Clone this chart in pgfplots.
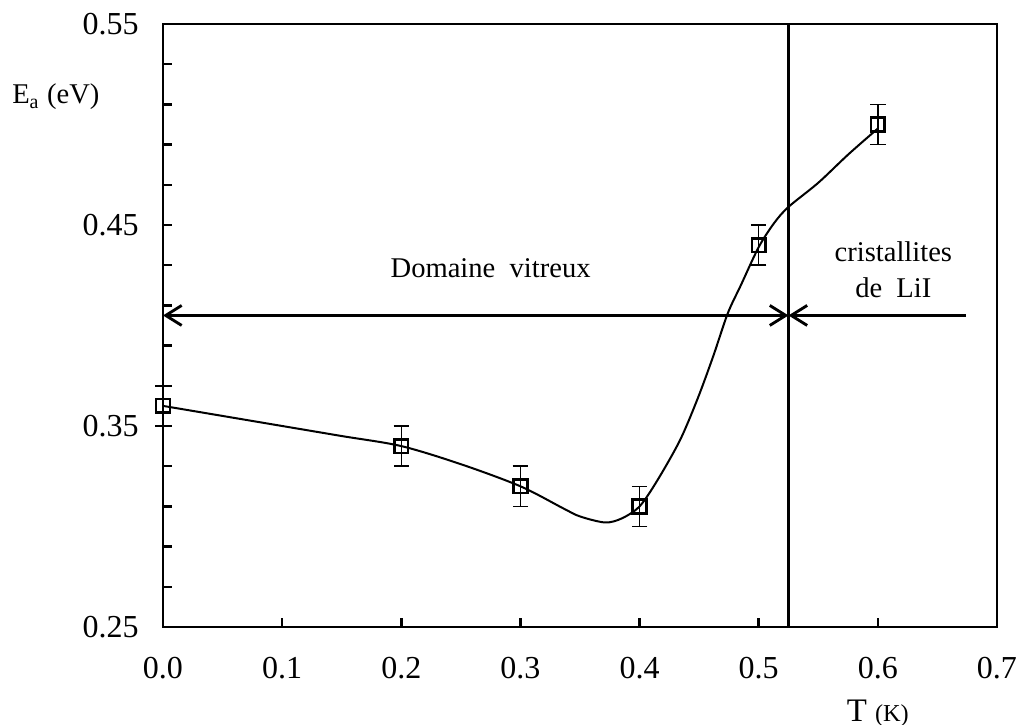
\documentclass[border=0pt]{standalone}
\usepackage{fontspec}
\setmainfont{Liberation Serif}
\usepackage{pgfplots}
\pgfplotsset{compat=1.18}
\usetikzlibrary{arrows.meta}

\begin{document}
\fontsize{10}{12}\selectfont
\begin{tikzpicture}
\useasboundingbox (-57.05pt,-34.3pt) rectangle (302.4pt,219.45pt);
\begin{axis}[
  at={(0pt,0pt)}, anchor=south west,
  scale only axis, width=291.9pt, height=211.05pt,
  xmin=0, xmax=0.7, ymin=0.25, ymax=0.55,
  axis line style={line width=1pt},
  xtick={0,0.1,0.2,0.3,0.4,0.5,0.6,0.7},
  ytick={0.25,0.35,0.45,0.55},
  minor ytick={0.27,0.29,0.31,0.33,0.37,0.39,0.41,0.43,0.47,0.49,0.51,0.53},
  xtick pos=bottom, ytick pos=left,
  tick align=inside,
  major tick length=3.2pt, minor tick length=3.2pt,
  every tick/.style={line width=0.9pt, black},
  minor tick style={line width=0.9pt, black},
  /pgf/number format/assume math mode=true,
  tick label style={font=\fontsize{11.2}{13}\selectfont},
  xticklabel style={/pgf/number format/fixed, /pgf/number format/fixed zerofill,
    /pgf/number format/precision=1, yshift=-7pt},
  yticklabel style={/pgf/number format/fixed, /pgf/number format/fixed zerofill,
    /pgf/number format/precision=2, xshift=-5pt},
  clip=false,
]
% curve
\addplot[black, line width=0.7pt, smooth, tension=0.5] coordinates {
  (0,0.360) (0.05,0.355) (0.1,0.350) (0.15,0.345) (0.2,0.340) (0.25,0.331)
  (0.3,0.320) (0.336,0.309) (0.35,0.305) (0.371,0.302) (0.385,0.304)
  (0.40,0.310) (0.415,0.323) (0.434,0.343) (0.449,0.364) (0.462,0.385)
  (0.474,0.406) (0.485,0.420) (0.5,0.439) (0.513,0.451) (0.525,0.459)
  (0.55,0.471) (0.575,0.485) (0.6,0.498)
};
% measured points with error bars
\addplot[black, only marks, mark=square, mark size=2.4pt,
  mark options={line width=0.9pt},
  error bars/.cd, y dir=both, y explicit,
  error bar style={line width=0.5pt},
  error mark options={rotate=90, mark size=2.7pt, line width=0.5pt}]
  coordinates {
  (0,0.36) +- (0,0.01)
  (0.2,0.34) +- (0,0.01)
  (0.3,0.32) +- (0,0.01)
  (0.4,0.31) +- (0,0.01)
  (0.5,0.44) +- (0,0.01)
  (0.6,0.50) +- (0,0.01)
};
% limits of domains
\draw[line width=1pt] (axis cs:0.525,0.25) -- (axis cs:0.525,0.55);
\draw[line width=1pt, {Straight Barb[length=5.6pt,width=7pt]}-{Straight Barb[length=5.6pt,width=7pt]}]
  (axis cs:0,0.405) -- (axis cs:0.525,0.405);
\draw[line width=1pt, -{Straight Barb[length=5.6pt,width=7pt]}]
  (axis cs:0.674,0.405) -- (axis cs:0.525,0.405);
\node at (axis cs:0.275,0.4286) {Domaine\ \ vitreux};
\node at (axis cs:0.613,0.4366) {cristallites};
\node at (axis cs:0.613,0.419) {de\ \ LiI};
\node[anchor=west, inner sep=0pt] at (axis cs:-0.127,0.5137) {E\textsubscript{a} (eV)};
\node at (axis cs:0.6,0.2072) {\fontsize{11.5}{13}\selectfont T {\fontsize{8.5}{10}\selectfont (K)}};
\end{axis}
\end{tikzpicture}
\end{document}
